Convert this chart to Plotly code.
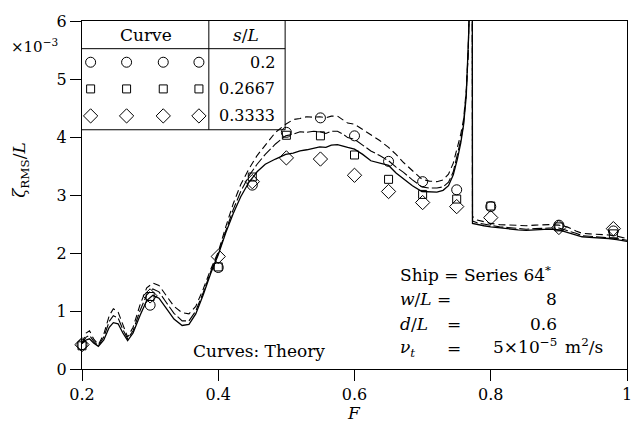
import plotly.graph_objects as go

# ---------------- data ----------------
F_exp = [0.2, 0.3, 0.4, 0.45, 0.5, 0.55, 0.6, 0.65, 0.7, 0.75, 0.8, 0.9, 0.98]
exp_s020 = [0.42, 1.10, 1.75, 3.17, 4.08, 4.33, 4.02, 3.58, 3.23, 3.09, 2.80, 2.48, 2.38]
exp_s027 = [0.40, 1.25, 1.76, 3.31, 4.03, 4.02, 3.69, 3.27, 3.01, 2.93, 2.81, 2.45, 2.33]
exp_s033 = [0.42, 1.26, 1.94, 3.23, 3.64, 3.62, 3.34, 3.06, 2.87, 2.80, 2.61, 2.44, 2.42]

F_pre = [0.200, 0.206, 0.211, 0.217, 0.224, 0.232, 0.240, 0.246, 0.253, 0.260,
         0.267, 0.275, 0.285, 0.295, 0.304, 0.313, 0.323, 0.335, 0.347, 0.357,
         0.367, 0.378, 0.389, 0.400, 0.411, 0.422, 0.433, 0.445, 0.457, 0.469,
         0.484, 0.499, 0.510, 0.520, 0.530, 0.540, 0.549, 0.558, 0.566, 0.575,
         0.583, 0.590, 0.600, 0.612, 0.624, 0.637, 0.650, 0.661, 0.672, 0.685,
         0.699, 0.710, 0.721, 0.730, 0.738, 0.745, 0.751, 0.756, 0.760, 0.764,
         0.767, 0.769, 0.771]
th_s033_pre = [0.44, 0.50, 0.52, 0.45, 0.39, 0.50, 0.72, 0.80, 0.78, 0.62,
               0.49, 0.62, 0.92, 1.18, 1.27, 1.22, 1.06, 0.86, 0.75, 0.77,
               0.95, 1.28, 1.65, 1.97, 2.35, 2.68, 2.97, 3.22, 3.40, 3.53,
               3.62, 3.70, 3.72, 3.76, 3.78, 3.80, 3.83, 3.82, 3.86, 3.87,
               3.85, 3.82, 3.79, 3.70, 3.59, 3.55, 3.51, 3.38, 3.28, 3.16,
               3.06, 3.05, 3.05, 3.08, 3.16, 3.35, 3.62, 3.90, 4.20, 4.70,
               5.40, 6.20, 8.00]
th_s027_pre = [0.44, 0.55, 0.58, 0.48, 0.40, 0.55, 0.82, 0.92, 0.88, 0.68,
               0.52, 0.66, 1.00, 1.28, 1.38, 1.33, 1.16, 0.96, 0.83, 0.83,
               1.00, 1.32, 1.68, 1.99, 2.38, 2.75, 3.06, 3.33, 3.53, 3.70,
               3.88, 4.02, 4.05, 4.09, 4.08, 4.10, 4.09, 4.06, 4.10, 4.10,
               4.05, 3.99, 3.96, 3.86, 3.76, 3.68, 3.59, 3.48, 3.39, 3.26,
               3.14, 3.12, 3.12, 3.14, 3.22, 3.40, 3.68, 3.95, 4.22, 4.75,
               5.45, 6.25, 8.00]
th_s020_pre = [0.44, 0.62, 0.66, 0.52, 0.42, 0.60, 0.92, 1.04, 0.98, 0.75,
               0.55, 0.72, 1.10, 1.40, 1.48, 1.44, 1.28, 1.08, 0.97, 0.95,
               1.08, 1.38, 1.72, 2.02, 2.45, 2.85, 3.18, 3.45, 3.68, 3.85,
               4.08, 4.22, 4.30, 4.32, 4.35, 4.34, 4.35, 4.33, 4.36, 4.36,
               4.30, 4.24, 4.22, 4.13, 4.05, 3.94, 3.82, 3.70, 3.56, 3.42,
               3.27, 3.24, 3.23, 3.26, 3.36, 3.55, 3.80, 4.05, 4.30, 4.80,
               5.50, 6.30, 8.00]

F_post = [0.7728, 0.7732, 0.780, 0.790, 0.800, 0.813, 0.825, 0.840, 0.852, 0.865,
          0.875, 0.885, 0.900, 0.912, 0.925, 0.934, 0.945, 0.960, 0.973, 0.985, 1.000]
th_s033_post = [8.00, 2.51, 2.49, 2.47, 2.45, 2.43, 2.42, 2.40, 2.39, 2.40,
                2.41, 2.41, 2.40, 2.36, 2.31, 2.28, 2.27, 2.26, 2.25, 2.23, 2.20]
th_s027_post = [8.00, 2.55, 2.52, 2.50, 2.47, 2.45, 2.44, 2.42, 2.41, 2.42,
                2.43, 2.43, 2.43, 2.39, 2.34, 2.30, 2.29, 2.28, 2.27, 2.25, 2.22]
th_s020_post = [8.00, 2.63, 2.57, 2.54, 2.51, 2.49, 2.48, 2.48, 2.47, 2.48,
                2.49, 2.49, 2.48, 2.45, 2.38, 2.34, 2.33, 2.32, 2.31, 2.29, 2.25]

sL_labels = ["0.2", "0.2667", "0.3333"]
x_ticks = [0.2, 0.4, 0.6, 0.8, 1.0]
x_ticktext = ["0.2", "0.4", "0.6", "0.8", "1"]
y_ticks = [0, 1, 2, 3, 4, 5, 6]

# ---------------- layout helpers ----------------
W, H = 644, 440
L, R, T, B = 82, 12, 17, 71
PW, PH = W - L - R, H - T - B
FONT = "DejaVu Serif"


def px(xpix):
    return (xpix - L) / PW


def py(ypix):
    return (H - B - ypix) / PH


fig = go.Figure()

F_all = F_pre + F_post
curves = [
    (th_s020_pre + th_s020_post, "7px,4px", 1.1),
    (th_s027_pre + th_s027_post, "10px,3px", 1.1),
    (th_s033_pre + th_s033_post, "solid", 1.3),
]
for yv, dash, wdt in curves:
    fig.add_trace(go.Scatter(x=F_all, y=yv, mode="lines",
                             line=dict(color="black", width=wdt, dash=dash),
                             showlegend=False, hoverinfo="skip"))

symbols = ["circle-open", "square-open", "diamond-open"]
sizes = [10, 8, 11]
for yv, sym, sz in zip([exp_s020, exp_s027, exp_s033], symbols, sizes):
    fig.add_trace(go.Scatter(x=F_exp, y=yv, mode="markers",
                             marker=dict(symbol=sym, size=sz, color="black",
                                         line=dict(color="black", width=1)),
                             showlegend=False, hoverinfo="skip", cliponaxis=False))

# legend table markers on an overlay axis in plot-fraction units
leg_x = [px(90.7), px(127), px(164), px(200)]
leg_rows = [py(58.7), py(85.7), py(113)]
for row_y, sym, sz in zip(leg_rows, symbols, sizes):
    fig.add_trace(go.Scatter(x=leg_x, y=[row_y] * 4, mode="markers",
                             xaxis="x2", yaxis="y2",
                             marker=dict(symbol=sym, size=sz, color="black",
                                         line=dict(color="black", width=1)),
                             showlegend=False, hoverinfo="skip", cliponaxis=False))

# table lines
line_style = dict(color="black", width=1)
tx_right = px(287)
tx_div = px(210)
shapes = [
    dict(type="line", xref="paper", yref="paper", x0=0, x1=tx_right, y0=py(45), y1=py(45), line=line_style),
    dict(type="line", xref="paper", yref="paper", x0=0, x1=tx_right, y0=py(127), y1=py(127), line=line_style),
    dict(type="line", xref="paper", yref="paper", x0=tx_right, x1=tx_right, y0=1, y1=py(127), line=line_style),
    dict(type="line", xref="paper", yref="paper", x0=tx_div, x1=tx_div, y0=1, y1=py(127), line=line_style),
]

ann = []


def add_text(text, xpix, ypix, xanchor="center", size=16, angle=0):
    ann.append(dict(text=text, x=px(xpix), y=py(ypix), xref="paper", yref="paper",
                    xanchor=xanchor, yanchor="middle", showarrow=False,
                    textangle=angle, font=dict(family=FONT, size=size, color="black")))


add_text("Curve", 147, 31, size=17)
add_text("<i>s</i>/<i>L</i>", 248, 31, size=17)
for lab, ry in zip(sL_labels, [58.7, 85.7, 113]):
    add_text(lab, 279, ry, xanchor="right")

add_text("×10<sup>−3</sup>", 34, 42, size=15)
add_text("<i>ζ</i><sub>RMS</sub>/<i>L</i>", 20, 168, size=17, angle=-90)
add_text("<i>F</i>", 356, 414, size=17)
add_text("Curves: Theory", 261, 351, size=17)

add_text("Ship = Series 64<sup>*</sup>", 401, 273, xanchor="left", size=17)
add_text("<i>w</i>/<i>L</i> =", 401, 298, xanchor="left", size=17)
add_text("8", 563, 298, xanchor="right", size=17)
add_text("<i>d</i>/<i>L</i>", 401, 323, xanchor="left", size=17)
add_text("=", 457, 323, size=17)
add_text("0.6", 563, 323, xanchor="right", size=17)
add_text("<i>ν</i><sub><i>t</i></sub>", 401, 348, xanchor="left", size=17)
add_text("=", 457, 348, size=17)
add_text("5×10<sup>−5</sup>", 563, 346, xanchor="right", size=17)
add_text("m<sup>2</sup>/s", 567, 346, xanchor="left", size=17)

fig.update_layout(
    width=W, height=H,
    margin=dict(l=L, r=R, t=T, b=B),
    paper_bgcolor="white", plot_bgcolor="white",
    font=dict(family=FONT, size=16, color="black"),
    showlegend=False,
    shapes=shapes,
    annotations=ann,
    xaxis=dict(range=[0.2, 1.0], tickvals=x_ticks, ticktext=x_ticktext,
               ticks="outside", ticklen=11, tickwidth=1, tickcolor="black",
               showline=True, linecolor="black", linewidth=1, mirror=True,
               showgrid=False, zeroline=False,
               tickfont=dict(family=FONT, size=16)),
    yaxis=dict(range=[0, 6], tickvals=y_ticks,
               ticks="outside", ticklen=11, tickwidth=1, tickcolor="black",
               showline=True, linecolor="black", linewidth=1, mirror=True,
               showgrid=False, zeroline=False,
               tickfont=dict(family=FONT, size=16)),
    xaxis2=dict(range=[0, 1], overlaying="x", visible=False, fixedrange=True),
    yaxis2=dict(range=[0, 1], overlaying="y", visible=False, fixedrange=True),
)

fig.write_html("out.html",
               config={"displayModeBar": False, "staticPlot": True},
               post_script="document.body.style.margin='0';document.body.style.overflow='hidden';")
